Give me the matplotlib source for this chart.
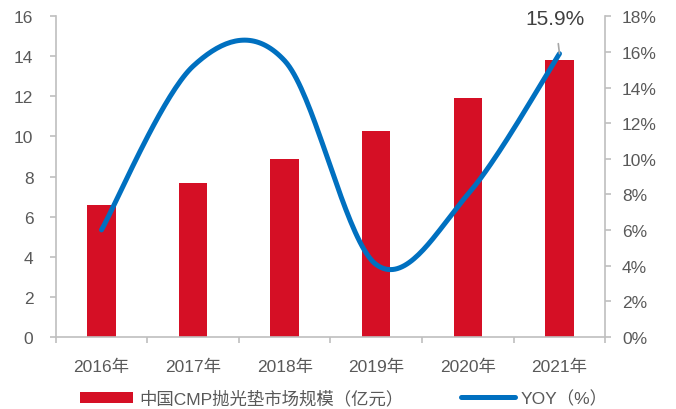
import matplotlib
matplotlib.use("Agg")
import matplotlib.pyplot as plt
import numpy as np
from matplotlib.patches import Patch
from matplotlib.lines import Line2D

plt.rcParams['font.family'] = ['Liberation Sans', 'Noto Sans CJK SC', 'DejaVu Sans']

years = ["2016年", "2017年", "2018年", "2019年", "2020年", "2021年"]
market_size = [6.6, 7.66, 8.86, 10.27, 11.9, 13.81]   # 亿元
yoy = [6.0, 15.2, 15.5, 4.05, 8.0, 15.9]              # %

bar_label = "中国CMP抛光垫市场规模（亿元）"
line_label = "YOY（%）"

RED = "#D50F25"
BLUE = "#0070C0"
TXT = "#595959"
SPINE = "#BFBFBF"


def smooth(x, y, n=40):
    # Catmull-Rom spline through the points, like a spreadsheet "smoothed line"
    x = np.asarray(x, float)
    y = np.asarray(y, float)
    px = np.concatenate([[x[0]], x, [x[-1]]])
    py = np.concatenate([[y[0]], y, [y[-1]]])
    xs, ys = [], []
    t = np.linspace(0, 1, n)
    h00 = 2 * t**3 - 3 * t**2 + 1
    h10 = t**3 - 2 * t**2 + t
    h01 = -2 * t**3 + 3 * t**2
    h11 = t**3 - t**2
    for i in range(1, len(px) - 2):
        mx0 = (px[i + 1] - px[i - 1]) / 2
        mx1 = (px[i + 2] - px[i]) / 2
        my0 = (py[i + 1] - py[i - 1]) / 2
        my1 = (py[i + 2] - py[i]) / 2
        xs.append(h00 * px[i] + h10 * mx0 + h01 * px[i + 1] + h11 * mx1)
        ys.append(h00 * py[i] + h10 * my0 + h01 * py[i + 1] + h11 * my1)
    return np.concatenate(xs), np.concatenate(ys)


fig = plt.figure(figsize=(6.76, 4.10), dpi=100)
ax = fig.add_axes([0.0824, 0.1763, 0.8130, 0.7815])
ax2 = ax.twinx()

x = np.arange(len(years))
ax.bar(x, market_size, width=0.31, color=RED, zorder=2)

sx, sy = smooth(x, yoy)
ax2.plot(sx, sy, color=BLUE, lw=3.6, solid_capstyle="round", zorder=3)

ax.set_xlim(-0.5, len(years) - 0.5)
ax.set_ylim(0, 16)
ax.set_yticks(np.arange(0, 17, 2))
ax2.set_ylim(0, 18)
ax2.set_yticks(np.arange(0, 19, 2))
ax2.set_yticklabels([f"{v}%" for v in range(0, 19, 2)])

ax.set_xticks(x)
ax.set_xticklabels(years)
ax.set_xticks(np.arange(-0.5, len(years), 1.0), minor=True)
ax.tick_params(axis="x", which="major", length=0, pad=16, labelsize=12.5, colors=TXT)
ax.tick_params(axis="x", which="minor", length=4.5, width=1.2, color=SPINE)
ax.tick_params(axis="y", length=4, width=1.2, color=SPINE, pad=12,
               labelsize=12.5, labelcolor=TXT)
ax2.tick_params(axis="y", length=4, width=1.2, color=SPINE, pad=8,
                labelsize=12.5, labelcolor=TXT)

for a in (ax, ax2):
    a.spines["top"].set_visible(False)
    for s in ("left", "right", "bottom"):
        a.spines[s].set_color(SPINE)
        a.spines[s].set_linewidth(1.2)
ax2.spines["left"].set_visible(False)
ax2.spines["bottom"].set_visible(False)
ax.spines["right"].set_visible(False)

# label for the last point
ax2.annotate(f"{yoy[-1]}%", xy=(x[-1], yoy[-1]), xytext=(-3, 25),
             textcoords="offset points", ha="center", va="center",
             fontsize=15, color="#404040",
             arrowprops=dict(arrowstyle="-", color="#A6A6A6", lw=1.2,
                             shrinkA=9, shrinkB=0))

handles = [Patch(facecolor=RED, edgecolor="none"),
           Line2D([], [], color=BLUE, lw=3.6, solid_capstyle="round")]
fig.legend(handles, [bar_label, line_label], ncol=2, frameon=False,
           loc="center left", bbox_to_anchor=(0.105, 0.027), fontsize=12.5,
           labelcolor=TXT, handlelength=3.1, handleheight=0.6,
           handletextpad=0.35, columnspacing=3.3, borderpad=0)

plt.savefig("out.png", dpi=100)
plt.close()
